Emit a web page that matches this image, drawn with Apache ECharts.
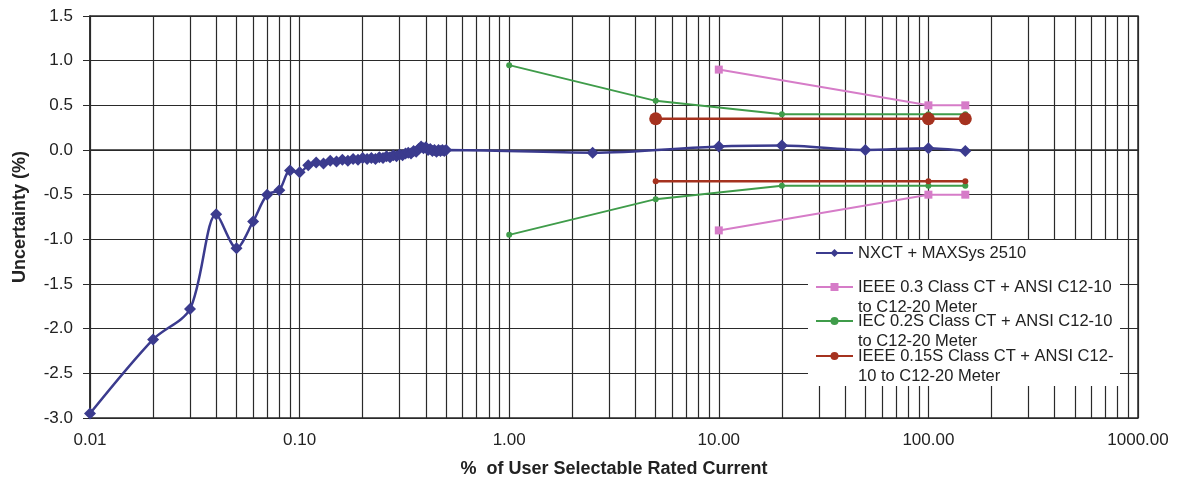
<!DOCTYPE html>
<html>
<head>
<meta charset="utf-8">
<script src="https://cdn.jsdelivr.net/npm/echarts@6/dist/echarts.min.js"></script>
<style>html,body{margin:0;padding:0;background:#fff}#c{width:1178px;height:484px}</style>
</head>
<body>
<div id="c"></div>
<script>
// ---- data ----
const seriesNames = [
  'NXCT + MAXSys 2510',
  'IEEE 0.3 Class CT + ANSI C12-10 to C12-20 Meter',
  'IEC 0.2S Class CT + ANSI C12-10 to C12-20 Meter',
  'IEEE 0.15S Class CT + ANSI C12-10 to C12-20 Meter'
];
const legendLabels = [
  'NXCT + MAXSys 2510',
  '\nIEEE 0.3 Class CT + ANSI C12-10\nto C12-20 Meter',
  '\nIEC 0.2S Class CT + ANSI C12-10\nto C12-20 Meter',
  '\nIEEE 0.15S Class CT + ANSI C12-\n10 to C12-20 Meter'
];
const blueX = [0.01,0.02,0.03,0.04,0.05,0.06,0.07,0.08,0.09,0.10,
  0.11,0.12,0.13,0.14,0.15,0.16,0.17,0.18,0.19,0.20,
  0.21,0.22,0.23,0.24,0.25,0.26,0.27,0.28,0.29,0.30,
  0.31,0.32,0.33,0.34,0.35,0.36,0.37,0.38,0.39,0.40,
  0.41,0.42,0.43,0.44,0.45,0.46,0.47,0.48,0.49,0.50,
  2.5,10,20,50,100,150];
const blueY = [-2.95,-2.12,-1.78,-0.72,-1.10,-0.80,-0.50,-0.45,-0.23,-0.25,
  -0.17,-0.14,-0.15,-0.12,-0.13,-0.11,-0.12,-0.10,-0.11,-0.09,
  -0.10,-0.09,-0.10,-0.08,-0.09,-0.07,-0.08,-0.06,-0.07,-0.05,
  -0.06,-0.04,-0.03,-0.04,-0.01,-0.02,0.01,0.04,0.02,0.03,
  0.00,0.01,-0.01,0.00,-0.02,0.00,-0.01,0.00,-0.01,0.00,
  -0.03,0.04,0.05,0.00,0.02,-0.01];
const pinkX = [10,100,150];
const pinkUpper = [0.90,0.50,0.50];
const pinkLower = [-0.90,-0.50,-0.50];
const greenX = [1,5,20,100,150];
const greenUpper = [0.95,0.55,0.40,0.40,0.40];
const greenLower = [-0.95,-0.55,-0.40,-0.40,-0.40];
const redX = [5,100,150];
const redUpper = [0.35,0.35,0.35];
const redLower = [-0.35,-0.35,-0.35];
const xTickValues = [0.01,0.1,1,10,100,1000];
const xTickLabels = ['0.01','0.10','1.00','10.00','100.00','1000.00'];
const xMinorGrid = [0.02,0.03,0.04,0.05,0.06,0.07,0.08,0.09,
  0.2,0.3,0.4,0.5,0.6,0.7,0.8,0.9,
  2,3,4,5,6,7,8,9,
  20,30,40,50,60,70,80,90,
  200,300,400,500,600,700,800,900];
const yTickValues = [-3,-2.5,-2,-1.5,-1,-0.5,0,0.5,1,1.5];
const yTickLabels = ['-3.0','-2.5','-2.0','-1.5','-1.0','-0.5','0.0','0.5','1.0','1.5'];

// ---- styles ----
const colors = ['#3b3b8e','#d67cc8','#3f9c4a','#a5321f'];
const FONT = 'Liberation Sans, Arial, sans-serif';
const GRIDC = '#2a2a2a';
const zip = (xs, ys) => xs.map((x, i) => [x, ys[i]]);

const chart = echarts.init(document.getElementById('c'), null, {renderer: 'canvas'});

function mkLegend(i, top) {
  return {
    data: [seriesNames[i]],
    left: 815, top: top, padding: 0,
    orient: 'vertical',
    itemWidth: 37, itemHeight: 10, itemGap: 0,
    z: 60,
    formatter: () => legendLabels[i],
    textStyle: {fontFamily: FONT, fontSize: 16.5, color: '#222', lineHeight: 20},
    selectedMode: false
  };
}

const option = {
  animation: false,
  backgroundColor: '#fff',
  grid: {left: 90, right: 40, top: 16, bottom: 66, show: true, borderColor: GRIDC, borderWidth: 1.5},
  graphic: [{
    type: 'rect', left: 808, top: 240, z: 50,
    shape: {width: 312, height: 146},
    style: {fill: '#fff'}
  }],
  legend: [
    mkLegend(0, 243),
    mkLegend(1, 257),
    mkLegend(2, 291),
    mkLegend(3, 326)
  ],
  xAxis: {
    type: 'log', logBase: 10, min: 0.01, max: 1000,
    name: '%  of User Selectable Rated Current',
    nameLocation: 'middle', nameGap: 42,
    nameTextStyle: {fontFamily: FONT, fontSize: 18, fontWeight: 'bold', color: '#222'},
    axisLine: {show: true, lineStyle: {color: GRIDC, width: 1.5}},
    axisTick: {show: true, length: 7, lineStyle: {color: GRIDC}},
    axisLabel: {
      fontFamily: FONT, fontSize: 17, color: '#222', margin: 14,
      formatter: v => {
        const idx = xTickValues.findIndex(t => Math.abs(Math.log10(t) - Math.log10(v)) < 1e-6);
        return idx >= 0 ? xTickLabels[idx] : '';
      }
    },
    splitLine: {show: true, lineStyle: {color: GRIDC, width: 1.2}}
  },
  yAxis: {
    type: 'value', min: -3, max: 1.5, interval: 0.5,
    name: 'Uncertainty (%)',
    nameLocation: 'middle', nameGap: 61, nameRotate: 90,
    nameTextStyle: {fontFamily: FONT, fontSize: 18, fontWeight: 'bold', color: '#222'},
    axisLine: {show: true, lineStyle: {color: GRIDC, width: 1.5}},
    axisTick: {show: true, length: 7, lineStyle: {color: GRIDC}},
    axisLabel: {
      fontFamily: FONT, fontSize: 17, color: '#222', margin: 17,
      formatter: v => {
        const idx = yTickValues.findIndex(t => Math.abs(t - v) < 1e-6);
        return idx >= 0 ? yTickLabels[idx] : '';
      }
    },
    splitLine: {show: true, lineStyle: {color: GRIDC, width: 1.2}}
  },
  series: [
    {
      name: '__minorgrid', type: 'line', data: [], silent: true,
      markLine: {
        silent: true, symbol: 'none', z: 1, animation: false,
        label: {show: false},
        lineStyle: {color: GRIDC, width: 1.2, type: 'solid'},
        emphasis: {disabled: true},
        data: xMinorGrid.map(v => ({xAxis: v}))
      }
    },
    {
      name: seriesNames[0], type: 'line', z: 10, smooth: 0.3,
      data: zip(blueX, blueY),
      symbol: 'diamond', symbolSize: 12,
      lineStyle: {color: colors[0], width: 2.5},
      itemStyle: {color: colors[0]}
    },
    {
      name: seriesNames[1], type: 'line', z: 8,
      data: zip(pinkX, pinkUpper),
      symbol: 'rect', symbolSize: 8,
      lineStyle: {color: colors[1], width: 2},
      itemStyle: {color: colors[1]}
    },
    {
      name: seriesNames[1], type: 'line', z: 8,
      data: zip(pinkX, pinkLower),
      symbol: 'rect', symbolSize: 8,
      lineStyle: {color: colors[1], width: 2},
      itemStyle: {color: colors[1]}
    },
    {
      name: seriesNames[2], type: 'line', z: 8,
      data: zip(greenX, greenUpper),
      symbol: 'circle', symbolSize: 6,
      lineStyle: {color: colors[2], width: 2},
      itemStyle: {color: colors[2]}
    },
    {
      name: seriesNames[2], type: 'line', z: 8,
      data: zip(greenX, greenLower),
      symbol: 'circle', symbolSize: 6,
      lineStyle: {color: colors[2], width: 2},
      itemStyle: {color: colors[2]}
    },
    {
      name: seriesNames[3], type: 'line', z: 8,
      data: zip(redX, redLower),
      symbol: 'circle', symbolSize: 6,
      lineStyle: {color: colors[3], width: 2.5},
      itemStyle: {color: colors[3]}
    },
    {
      name: seriesNames[3], type: 'line', z: 8,
      data: zip(redX, redUpper),
      symbol: 'circle', symbolSize: 13,
      lineStyle: {color: colors[3], width: 2.5},
      itemStyle: {color: colors[3]}
    }
  ]
};
chart.setOption(option);
</script>
</body>
</html>
